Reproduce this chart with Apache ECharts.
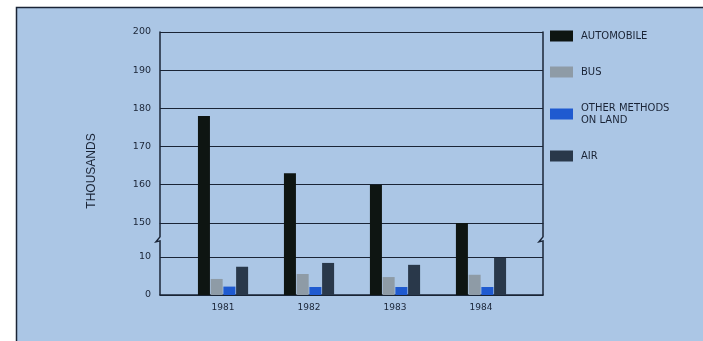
<!DOCTYPE html>
<html><head><meta charset="utf-8">
<script src="https://cdn.jsdelivr.net/npm/echarts@6/dist/echarts.min.js"></script>
<style>html,body{margin:0;padding:0;background:#fff}#c{width:703px;height:341px}</style>
</head><body><div id="c"></div>
<script>
const years = [1981, 1982, 1983, 1984];
const seriesNames = ['AUTOMOBILE', 'BUS', 'OTHER METHODS\nON LAND', 'AIR'];
const automobile = [178, 163, 160, 150];
const bus = [4.2, 5.5, 4.7, 5.3];
const otherLand = [2.2, 2.1, 2.1, 2.1];
const air = [7.4, 8.4, 7.9, 9.7];
const breakStart = 10, breakEnd = 150;

const ink = '#1a2436';
const font = '"DejaVu Sans", sans-serif';
const colors = ['#0e1512', '#8e9ba6', '#1f5ad0', '#29384a'];
const values = [automobile, bus, otherLand, air];

const chart = echarts.init(document.getElementById('c'), null, {renderer: 'canvas'});
const yBase = {
  type: 'value', min: 0, max: 200, interval: 10,
  breaks: [{start: breakStart, end: breakEnd, gap: '12.9%'}],
  breakArea: {show: true, expandOnClick: false,
    itemStyle: {color: 'rgba(0,0,0,0)', borderColor: 'rgba(0,0,0,0)', borderWidth: 0}},
  axisLine: {show: true, lineStyle: {color: ink, width: 1.5}},
  axisTick: {show: false}
};
chart.setOption({
  animation: false,
  backgroundColor: '#ffffff',
  graphic: [{type: 'rect', z: -10, silent: true,
    shape: {x: 16.5, y: 7.5, width: 760, height: 400},
    style: {fill: '#abc6e5', stroke: ink, lineWidth: 1.5}},
    {type: 'text', x: 92, y: 171, rotation: Math.PI / 2, silent: true,
    style: {text: 'THOUSANDS', font: '9.5px ' + font, fill: ink, align: 'center', verticalAlign: 'middle'}}],
  grid: {left: 160, right: 160, top: 32, bottom: 46, containLabel: false},
  legend: {orient: 'vertical', left: 550, top: 30, padding: 0, itemWidth: 23, itemHeight: 11, itemGap: 24,
    icon: 'rect', data: seriesNames,
    textStyle: {fontFamily: font, fontSize: 10, color: ink, lineHeight: 12, padding: [0, 0, 0, 3]}},
  xAxis: {type: 'value', min: 1980.267, max: 1984.721,
    axisLine: {show: true, onZero: false, lineStyle: {color: ink, width: 1.5}},
    axisTick: {show: false}, splitLine: {show: false},
    axisLabel: {customValues: years, formatter: v => String(v), margin: 8,
      fontFamily: font, fontSize: 9, color: ink}},
  yAxis: [
    Object.assign({}, yBase, {position: 'left',
      splitLine: {show: true, lineStyle: {color: ink, width: 1}},
      axisLabel: {margin: 9, fontFamily: font, fontSize: 9.5, color: ink}}),
    Object.assign({}, yBase, {position: 'right',
      splitLine: {show: false}, axisLabel: {show: false}})
  ],
  series: seriesNames.map((n, k) => ({
    name: n, type: 'bar', barWidth: 12, barGap: '6%', yAxisIndex: 0,
    itemStyle: {color: colors[k]},
    data: years.map((y, i) => [y, values[k][i]]),
    markLine: k === 0 ? {silent: true, symbol: 'none', label: {show: false}, z: 1,
      lineStyle: {color: ink, width: 1, type: 'solid'},
      data: [{yAxis: breakStart}, {yAxis: breakEnd}]} : undefined
  }))
});

// zigzag break marks on both vertical axis lines
const yLo = chart.convertToPixel({yAxisIndex: 0}, breakStart);
const yHi = chart.convertToPixel({yAxisIndex: 0}, breakEnd);
const xL = chart.convertToPixel({xAxisIndex: 0}, 1980.267);
const xR = chart.convertToPixel({xAxisIndex: 0}, 1984.721);
const mid = (yLo + yHi) / 2;
function zig(x) {
  return {type: 'polyline', silent: true, z: 5,
    shape: {points: [[x, yHi], [x, mid - 3], [x - 4, mid + 2], [x, mid + 1], [x, yLo]]},
    style: {stroke: ink, lineWidth: 1.5, fill: null}};
}
chart.setOption({graphic: [{}, {}, zig(xL), zig(xR)]});
</script></body></html>
